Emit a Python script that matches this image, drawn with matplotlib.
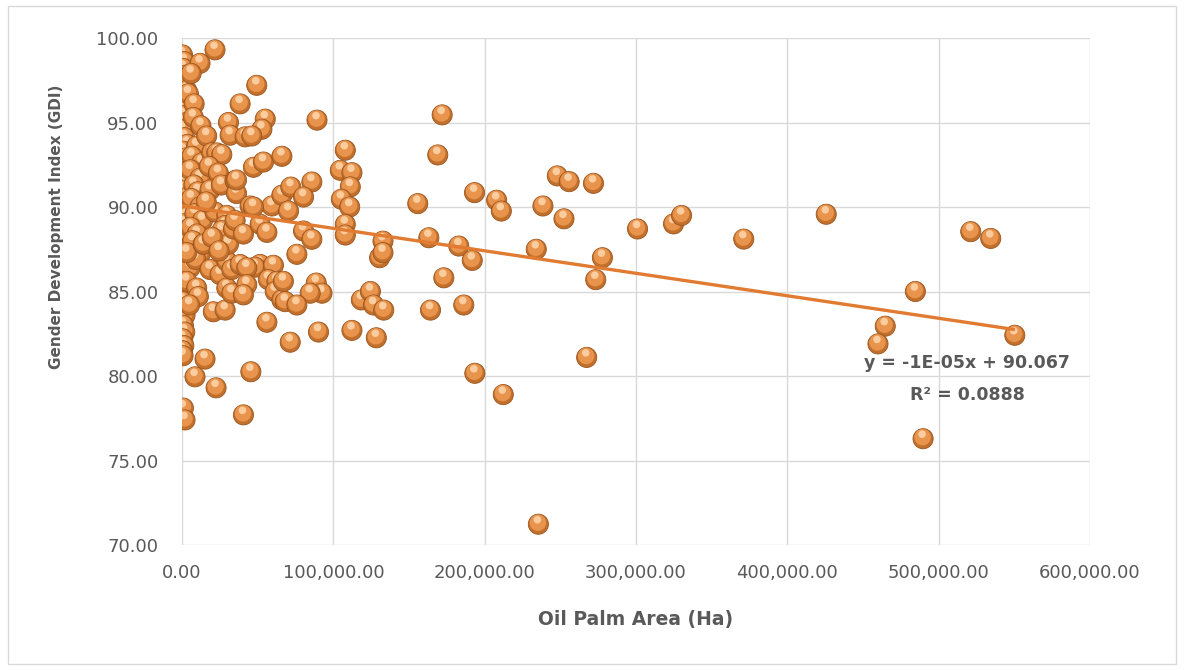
import numpy as np
import matplotlib
matplotlib.use("Agg")
import matplotlib.pyplot as plt
from matplotlib.patches import Rectangle
from matplotlib.ticker import FuncFormatter

# Oil palm area (Ha) vs GDI, grouped by x range
near_zero = [
    (300, 99.0), (1500, 98.6), (800, 98.2), (2200, 97.8), (400, 97.5),
    (3100, 96.9), (1200, 96.6), (600, 96.2), (2000, 95.8), (900, 95.4),
    (2800, 95.0), (400, 94.6), (1700, 94.1), (3500, 93.7), (700, 93.3),
    (2400, 92.9), (1100, 92.5), (300, 92.1), (2900, 91.8), (1600, 91.4),
    (500, 91.0), (3800, 90.6), (1300, 90.2), (200, 89.8), (2600, 89.4),
    (900, 89.0), (1900, 88.6), (3300, 88.2), (600, 87.8), (1400, 87.5),
    (2300, 87.1), (800, 86.7), (3000, 86.3), (1000, 85.9), (500, 85.5),
    (2100, 84.8), (600, 84.4), (2000, 83.6), (900, 83.0), (1800, 82.6),
    (500, 82.2), (1200, 81.8), (300, 81.5), (700, 81.2), (900, 78.1),
    (2000, 77.4),
]
low_area = [
    (11900, 98.5), (6000, 97.9), (4200, 96.7), (8000, 96.1), (7500, 95.3),
    (12500, 94.8), (9700, 93.6), (6500, 93.0), (13000, 92.6), (5500, 92.2),
    (11900, 91.7), (7800, 91.3), (10500, 90.9), (6200, 90.5), (11900, 90.0),
    (8500, 89.6), (13500, 89.2), (5800, 88.8), (10000, 88.4), (7000, 88.0),
    (11900, 87.2), (5300, 86.4), (9000, 86.9), (3100, 87.3), (14000, 87.8),
    (3100, 85.6), (9700, 85.2), (10800, 84.7), (5000, 84.2), (15200, 81.0),
    (8600, 79.95),
]
mid_low = [
    (21800, 99.3), (16300, 94.2), (19600, 93.2), (23000, 93.2), (26300, 93.1),
    (18000, 92.4), (24000, 92.0), (18500, 91.0), (26000, 91.3), (21800, 89.7),
    (29600, 89.5), (16000, 90.3), (28500, 88.9), (26300, 88.6), (14100, 87.8),
    (18500, 86.3), (25100, 86.0), (29600, 86.8), (29600, 85.2), (20700, 83.8),
    (28500, 83.9), (22500, 79.3), (30700, 87.8), (32900, 86.3), (32900, 84.9),
    (20000, 88.2), (24500, 87.4),
]
mid_area = [
    (30700, 95.0), (31800, 94.25), (41700, 94.15), (38400, 96.1), (49400, 97.2),
    (55000, 95.2), (52800, 94.6), (46100, 94.2), (35100, 91.55), (36000, 90.8),
    (45000, 90.06), (47200, 92.35), (53800, 92.66), (34000, 88.7), (35100, 89.2),
    (40600, 88.4), (51600, 88.98), (38400, 86.6), (51600, 86.6), (48300, 86.44),
    (42800, 86.4), (42800, 85.4), (40600, 84.8), (60400, 86.55), (57100, 85.7),
    (62700, 85.6), (61600, 85.0), (66000, 84.5), (56100, 83.18), (45500, 80.25),
    (40600, 77.7), (59400, 90.06), (56100, 88.5), (66000, 93.0), (66000, 90.7),
    (47200, 90.0), (36000, 91.6),
]
upper_mid = [
    (71900, 91.18), (85800, 91.48), (80300, 90.59), (70400, 89.76), (80300, 88.58),
    (85800, 88.09), (75900, 87.2), (67000, 85.6), (88700, 85.5), (92500, 84.9),
    (84700, 84.9), (68200, 84.4), (75900, 84.2), (90200, 82.6), (71500, 82.0),
    (89200, 95.14), (107900, 93.36), (104600, 92.17), (112300, 92.03), (111200, 91.19),
    (105300, 90.46), (110800, 90.0), (107900, 88.97), (107900, 88.34), (112300, 82.7),
    (128400, 82.26), (118500, 84.5), (124500, 85.0), (126600, 84.2), (133300, 83.9),
    (130600, 87.0), (132800, 87.98), (132800, 87.3),
]
far_area = [
    (155800, 90.2), (171900, 95.45), (169000, 93.08), (193300, 90.85), (207900, 90.4),
    (211000, 89.76), (163100, 88.18), (182900, 87.69), (191800, 86.84), (173000, 85.81),
    (164200, 83.9), (186200, 84.2), (193500, 80.16), (212300, 78.9),
    (248000, 91.84), (255800, 91.5), (271900, 91.4), (238500, 90.06), (252400, 89.3),
    (301000, 88.7), (324800, 89.0), (330100, 89.5), (371200, 88.1), (234100, 87.5),
    (277800, 87.0), (273400, 85.7), (267400, 81.1), (235500, 71.23),
    (425700, 89.57), (521200, 88.54), (534400, 88.14), (484600, 85.0), (464700, 82.95),
    (459900, 81.9), (550300, 82.41), (489700, 76.29),
]

# Excel trendline (drawn slope, label is rounded)
trend_slope = -1.33e-5
trend_intercept = 90.067
eq_label = "y = -1E-05x + 90.067"
r2_label = "R² = 0.0888"

x_ticks = [0, 100000, 200000, 300000, 400000, 500000, 600000]
y_ticks = [70, 75, 80, 85, 90, 95, 100]

TXT = "#595959"
GRID = "#D9D9D9"

points = np.array(near_zero + low_area + mid_low + mid_area + upper_mid + far_area)
area = points[:, 0]
gdi = points[:, 1]

fig = plt.figure(figsize=(11.84, 6.7), dpi=100)
fig.patches.append(Rectangle((8 / 1184, 6 / 670), 1168 / 1184, 658 / 670,
                             transform=fig.transFigure, fill=False,
                             edgecolor=GRID, linewidth=1))
ax = fig.add_axes([182 / 1184, 125 / 670, 908 / 1184, 507 / 670])

ax.set_xlim(0, 600000)
ax.set_ylim(70, 100)
ax.set_xticks(x_ticks)
ax.set_yticks(y_ticks)
ax.xaxis.set_major_formatter(FuncFormatter(lambda v, p: f"{v:,.2f}"))
ax.yaxis.set_major_formatter(FuncFormatter(lambda v, p: f"{v:.2f}"))
ax.tick_params(length=0, labelsize=13, colors=TXT)
ax.tick_params(axis="y", pad=17)
ax.tick_params(axis="x", pad=14)
for s in ax.spines.values():
    s.set_visible(False)
ax.grid(True, color=GRID, linewidth=1.0)
ax.set_axisbelow(True)

# fake 3D balls: base, body, highlight per point, interleaved so overlaps stay right
disp = ax.transData.transform(np.column_stack([area, gdi]))
inv = ax.transData.inverted()
body = inv.transform(disp + [-0.5, 1.5])
hl = inv.transform(disp + [-1.0, 4.5])
n = len(area)
xs = np.empty(3 * n)
ys = np.empty(3 * n)
xs[0::3], ys[0::3] = area, gdi
xs[1::3], ys[1::3] = body[:, 0], body[:, 1]
xs[2::3], ys[2::3] = hl[:, 0], hl[:, 1]
sizes = np.tile([210, 140, 30], n)
colors = np.tile(np.array([[0.76, 0.44, 0.17, 1.0],
                           [0.91, 0.58, 0.30, 1.0],
                           [0.98, 0.80, 0.62, 1.0]]), (n, 1))
edges = np.tile(np.array([[0.60, 0.33, 0.12, 1.0],
                          [0.91, 0.58, 0.30, 0.0],
                          [0.98, 0.80, 0.62, 0.0]]), (n, 1))
ax.scatter(xs, ys, s=sizes, c=colors, edgecolors=edges, linewidths=0.6, zorder=3)

tx = np.array([0, area.max()])
ax.plot(tx, trend_intercept + trend_slope * tx, color="#E07B31", linewidth=2.4,
        zorder=4, solid_capstyle="butt")

ax.text(519000, 80.75, eq_label, ha="center", va="center", fontsize=12.5,
        fontweight="bold", color=TXT, zorder=5)
ax.text(519000, 78.85, r2_label, ha="center", va="center", fontsize=12.5,
        fontweight="bold", color=TXT, zorder=5)

fig.text(636 / 1184, 1 - 620 / 670, "Oil Palm Area (Ha)", ha="center", va="center",
         fontsize=13.5, fontweight="bold", color=TXT)
fig.text(57 / 1184, 1 - 227 / 670, "Gender Development Index (GDI)", ha="center",
         va="center", rotation=90, fontsize=11, fontweight="bold", color=TXT)

fig.savefig("out.png", dpi=100, facecolor="white")
